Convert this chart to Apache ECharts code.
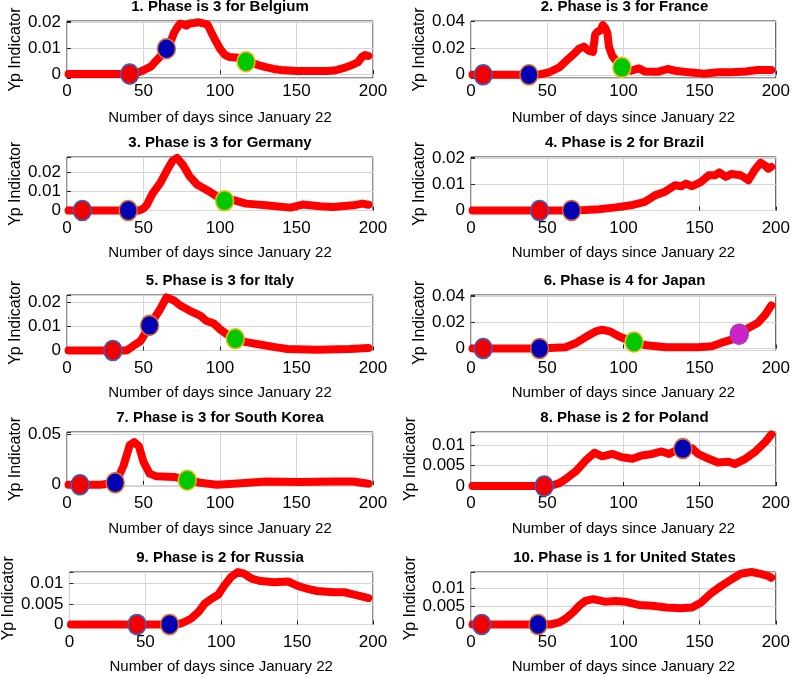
<!DOCTYPE html>
<html>
<head>
<meta charset="utf-8">
<script src="https://cdn.jsdelivr.net/npm/echarts@6/dist/echarts.min.js"></script>
<style>
html,body{margin:0;padding:0;background:#fff;}
#chart{width:793px;height:677px;}
</style>
</head>
<body>
<div id="chart"></div>
<script>
// ---------- DATA ----------
const countries = ['Belgium','France','Germany','Brazil','Italy','Japan','South Korea','Poland','Russia','United States'];
const phases = [3,3,3,2,3,4,3,2,2,1];
const xTicks = [0,50,100,150,200];

const belgium = [[1,0],[10,0],[20,0],[30,0],[40,0],[45,0.0003],[50,0.0015],[55,0.003],[58,0.005],[62,0.0075],[65,0.0098],[68,0.013],[70,0.016],[72,0.018],[74,0.0195],[76,0.0192],[78,0.0187],[80,0.0195],[83,0.0197],[86,0.02],[89,0.0196],[92,0.019],[94,0.0165],[97,0.013],[100,0.0098],[103,0.0075],[106,0.0066],[110,0.0064],[114,0.0062],[117,0.0052],[120,0.0045],[125,0.0035],[130,0.0027],[135,0.002],[140,0.0016],[145,0.0014],[150,0.0012],[160,0.0012],[170,0.0012],[175,0.0014],[180,0.0022],[185,0.0032],[190,0.0045],[193,0.0068],[195,0.0074],[197,0.007]];
const france = [[1,0],[10,0],[20,0],[30,0],[40,0],[45,0.0003],[51,0.0017],[58,0.0055],[64,0.012],[68,0.016],[71,0.0195],[74,0.021],[77,0.018],[80,0.017],[81.5,0.03],[83,0.032],[85,0.033],[86.5,0.037],[88,0.035],[89.5,0.031],[90.5,0.021],[92.5,0.0145],[95,0.0106],[97,0.0068],[99,0.0055],[102,0.004],[105,0.003],[110,0.0048],[114,0.0025],[123,0.0023],[129,0.0043],[134,0.003],[143,0.0018],[153,0.0008],[162,0.0018],[171,0.0018],[180,0.0025],[188,0.0035],[197,0.0035]];
const germany = [[1,0],[10,0],[20,0],[30,0],[40,0],[47,0],[50,0.001],[52,0.0027],[56,0.009],[61,0.0145],[65,0.0205],[69,0.026],[72,0.0275],[76,0.0236],[80,0.018],[85,0.0136],[89,0.0118],[93,0.01],[98,0.0073],[103,0.0052],[109,0.0054],[117,0.0036],[130,0.0027],[146,0.0015],[154,0.0031],[165,0.0022],[174,0.0018],[187,0.0027],[193,0.0036],[197,0.003]];
const brazil = [[1,0],[20,0],[40,0],[60,0],[75,0.0002],[84,0.0005],[95,0.0012],[105,0.002],[114,0.0033],[121,0.0059],[127,0.0071],[134,0.0097],[138,0.0093],[141,0.0103],[145,0.0093],[151,0.011],[156,0.0135],[160,0.0135],[163,0.0146],[167,0.0129],[171,0.014],[177,0.0135],[182,0.0116],[186,0.0154],[190,0.0183],[193,0.0172],[195,0.016],[197,0.0167]];
const italy = [[1,0],[10,0],[20,0],[30,0],[39,0],[43,0.0018],[48,0.0039],[52,0.0082],[56,0.0124],[61,0.0174],[65,0.0222],[70,0.0209],[74,0.0188],[80,0.0167],[87,0.0146],[91,0.0124],[96,0.0113],[100,0.0089],[104,0.007],[110,0.0049],[117,0.0035],[126,0.0025],[135,0.0015],[144,0.0006],[163,0.0003],[185,0.0006],[197,0.001]];
const japan = [[1,0],[20,0],[40,0],[52,0.0005],[62,0.001],[69,0.0043],[75,0.0086],[82,0.0132],[86,0.0144],[91,0.0132],[97,0.0094],[104,0.006],[107,0.005],[115,0.0025],[128,0.001],[149,0.001],[158,0.0018],[164,0.0043],[171,0.0068],[176,0.011],[182,0.0157],[188,0.0195],[193,0.0259],[197,0.033]];
const southKorea = [[1,0],[10,0],[22,0],[32,0.002],[37,0.019],[41,0.039],[44,0.042],[47,0.038],[50,0.0226],[54,0.011],[58.5,0.0083],[70,0.0077],[79,0.0045],[87,0.002],[98,0],[109,0.001],[130,0.0033],[152,0.0027],[174,0.0033],[187,0.0033],[197,0.001]];
const poland = [[1,0],[20,0],[40,0],[52,0],[58,0.0007],[62,0.0017],[69,0.0037],[75,0.0062],[81,0.0082],[86,0.0073],[93,0.0079],[99,0.0071],[106,0.0067],[112,0.0075],[119,0.0079],[125,0.0085],[130,0.0079],[134,0.0087],[139,0.0092],[145,0.0093],[149,0.0079],[156,0.0067],[162,0.0058],[169,0.006],[173,0.0054],[180,0.0067],[186,0.0083],[193,0.0108],[197,0.0127]];
const russia = [[1,0],[20,0],[40,0],[60,0],[70,0],[74,0.0003],[80,0.0014],[85,0.003],[89,0.005],[93.5,0.0062],[98,0.0072],[102,0.0094],[106.5,0.0115],[111,0.0127],[115,0.0123],[120,0.0111],[126,0.0105],[135,0.0102],[144,0.0104],[150,0.0094],[157,0.0086],[163,0.0081],[174,0.0078],[181,0.0078],[187,0.0073],[197,0.0064]];
const unitedStates = [[1,0],[20,0],[40,0],[52,0],[58,0.0006],[62,0.0016],[67,0.0034],[71,0.0052],[75,0.0065],[80,0.007],[88,0.0063],[95,0.0065],[101,0.0063],[110,0.0054],[119,0.0052],[128,0.0047],[138,0.0045],[145,0.0047],[151,0.0061],[158,0.0088],[164,0.0106],[171,0.0125],[177,0.014],[184,0.0145],[190,0.014],[195,0.0134],[197,0.0129]];

// phase-start markers: [day, value]
const belgiumMarkers = [[41,0],[65,0.0098],[117,0.0048]];
const franceMarkers = [[8,0],[38,0],[99,0.0055]];
const germanyMarkers = [[10,0],[40,0],[103,0.0051]];
const brazilMarkers = [[45,0],[66,0]];
const italyMarkers = [[30,0],[54,0.0105],[110,0.0049]];
const japanMarkers = [[8,0],[45,0],[107,0.005],[176,0.011]];
const southKoreaMarkers = [[8.5,0],[31.5,0.002],[78.6,0.0045]];
const polandMarkers = [[48,0],[139,0.0092]];
const russiaMarkers = [[44.5,0],[66,0]];
const unitedStatesMarkers = [[7,0],[44,0]];

// y-axis ranges and tick steps
const yMin  = [-0.0015,-0.0024,0,0,0,-0.0015,-0.0012,0,0,0];
const yMax  = [0.0205,0.04,0.028,0.0205,0.0232,0.041,0.052,0.0133,0.0127,0.0145];
const yStep = [0.01,0.02,0.01,0.01,0.01,0.02,0.05,0.005,0.005,0.005];

const curves = [belgium,france,germany,brazil,italy,japan,southKorea,poland,russia,unitedStates];
const markers = [belgiumMarkers,franceMarkers,germanyMarkers,brazilMarkers,italyMarkers,japanMarkers,southKoreaMarkers,polandMarkers,russiaMarkers,unitedStatesMarkers];

// ---------- LAYOUT / STYLE ----------
const colLeft = [67, 471];
const colWidth = [306, 307];
const rowTop = [21, 157, 295, 432, 572];
const rowHeight = [57, 53.5, 55.5, 54, 52.5];
const xLabelMargin = [5, 9, 9, 9, 9];
const xNameGap = [32, 35, 35, 35, 35];
const markerFill = ['#f00000', '#0000b4', '#00c800', '#cc22cc'];
const markerBorder = ['#3a62c8', '#d8703a', '#e8c010', '#a040b0'];
const FONT = 'Liberation Sans, Arial, sans-serif';

const grids = [], xAxes = [], yAxes = [], series = [], titles = [];
for (let i = 0; i < 10; i++) {
  const r = Math.floor(i / 2), c = i % 2;
  grids.push({left: colLeft[c], top: rowTop[r], width: colWidth[c], height: rowHeight[r],
    show: true, borderColor: '#262626', borderWidth: 1, backgroundColor: 'transparent', containLabel: false});
  titles.push({text: (i + 1) + '. Phase is ' + phases[i] + ' for ' + countries[i],
    left: colLeft[c] + colWidth[c] / 2, top: rowTop[r] - 22, textAlign: 'center', padding: 0,
    textStyle: {fontFamily: FONT, fontSize: 15, fontWeight: 'bold', color: '#000'}});
  xAxes.push({type: 'value', gridIndex: i, min: xTicks[0], max: xTicks[xTicks.length - 1],
    interval: xTicks[1] - xTicks[0],
    axisLine: {show: false},
    axisTick: {show: true, inside: true, length: 4, lineStyle: {color: '#262626'}},
    splitLine: {show: true, lineStyle: {color: '#d6d6d6', width: 1}},
    axisLabel: {fontFamily: FONT, fontSize: 17, color: '#000', margin: xLabelMargin[r]},
    name: 'Number of days since January 22', nameLocation: 'middle', nameGap: xNameGap[r],
    nameTextStyle: {fontFamily: FONT, fontSize: 15, color: '#000'}});
  const step = yStep[i];
  yAxes.push({type: 'value', gridIndex: i, min: yMin[i], max: yMax[i],
    minInterval: step, maxInterval: step,
    axisLine: {show: false},
    axisTick: {show: true, inside: true, length: 4, lineStyle: {color: '#262626'}},
    splitLine: {show: true, lineStyle: {color: '#d6d6d6', width: 1}},
    axisLabel: {fontFamily: FONT, fontSize: 17, color: '#000', margin: 6,
      formatter: function (v) {
        const k = v / step;
        if (Math.abs(k - Math.round(k)) > 1e-6) return '';
        return String(parseFloat((Math.round(k) * step).toFixed(4)));
      }},
    name: 'Yp Indicator', nameLocation: 'middle', nameGap: 42,
    nameTextStyle: {fontFamily: FONT, fontSize: 16, color: '#000'}});
  series.push({type: 'line', xAxisIndex: i, yAxisIndex: i, data: curves[i],
    showSymbol: false, symbol: 'none', clip: false, z: 3,
    lineStyle: {color: '#ff0000', width: 8, cap: 'round', join: 'round', opacity: 1}});
  series.push({type: 'scatter', xAxisIndex: i, yAxisIndex: i, z: 5, clip: false,
    symbol: 'circle', symbolSize: [18, 20],
    data: markers[i].map(function (m, k) {
      return {value: m, itemStyle: {color: markerFill[k], borderColor: markerBorder[k], borderWidth: 1.5, opacity: 1}};
    })});
}

const chart = echarts.init(document.getElementById('chart'), null, {renderer: 'canvas'});
chart.setOption({
  animation: false,
  backgroundColor: '#fff',
  title: titles,
  grid: grids,
  xAxis: xAxes,
  yAxis: yAxes,
  series: series
});
</script>
</body>
</html>
